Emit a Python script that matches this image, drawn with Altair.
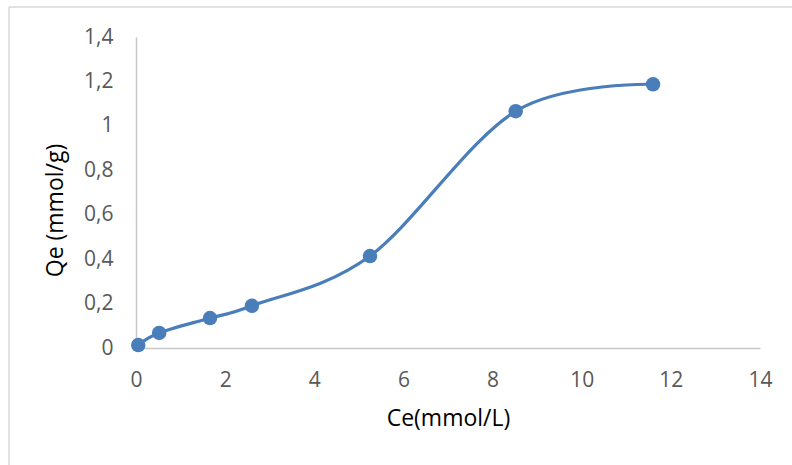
import altair as alt
import pandas as pd

# Equilibrium concentration (mmol/L) and adsorbed amount (mmol/g)
ce = [0.05, 0.52, 1.66, 2.6, 5.25, 8.52, 11.6]
qe = [0.013, 0.068, 0.135, 0.19, 0.414, 1.066, 1.187]

x_ticks = [0, 2, 4, 6, 8, 10, 12, 14]
y_ticks = [0, 0.2, 0.4, 0.6, 0.8, 1.0, 1.2, 1.4]

df = pd.DataFrame({"ce": ce, "qe": qe})

BLUE = "#4A7EBB"
FONT = "Open Sans"
comma_label = "replace(format(datum.value, '~g'), '.', ',')"

x_enc = alt.X(
    "ce:Q",
    scale=alt.Scale(domain=[0, 14], nice=False, zero=True),
    axis=alt.Axis(
        values=x_ticks,
        title="Ce(mmol/L)",
        grid=False,
        ticks=False,
        labelFlush=False,
        domainColor="#C8C8C8",
        domainWidth=1.5,
        labelColor="#595959",
        labelFontSize=21,
        labelFont=FONT,
        labelPadding=21,
        titleFont=FONT,
        titleFontSize=23,
        titleFontWeight="normal",
        titleColor="#000000",
        titlePadding=17,
    ),
)
y_enc = alt.Y(
    "qe:Q",
    scale=alt.Scale(domain=[0, 1.4], nice=False),
    axis=alt.Axis(
        values=y_ticks,
        labelExpr=comma_label,
        title="Qe (mmol/g)",
        grid=False,
        ticks=False,
        labelFlush=False,
        domainColor="#C8C8C8",
        domainWidth=1.5,
        labelColor="#595959",
        labelFontSize=21,
        labelFont=FONT,
        labelPadding=23,
        titleFont=FONT,
        titleFontSize=23,
        titleFontWeight="normal",
        titleColor="#000000",
        titleX=-81,
        titleY=173,
        titleAlign="center",
        titleBaseline="middle",
        titleAngle=270,
    ),
)

curve = alt.Chart(df).mark_line(
    interpolate="cardinal", color=BLUE, strokeWidth=3.2
).encode(x=x_enc, y=y_enc)

dots = alt.Chart(df).mark_circle(
    size=210, color=BLUE, opacity=1
).encode(x="ce:Q", y="qe:Q")

# Light frame around the whole chart area
frame_src = alt.Data(values=[{"k": 0}])
frame_top = alt.Chart(frame_src).mark_rule(color="#D9D9D9", strokeWidth=1.5).encode(
    x=alt.value(-127), x2=alt.value(700), y=alt.value(-30)
)
frame_left = alt.Chart(frame_src).mark_rule(color="#D9D9D9", strokeWidth=1.5).encode(
    x=alt.value(-127), y=alt.value(-30), y2=alt.value(500)
)

chart = (
    alt.layer(frame_top, frame_left, curve, dots)
    .properties(
        width=624,
        height=311,
        autosize=alt.AutoSizeParams(type="none"),
        padding={"left": 136, "top": 37, "right": 32, "bottom": 117},
        background="white",
    )
    .configure_view(stroke=None)
)

chart.save("out.html", embed_options={"renderer": "svg", "actions": False})
